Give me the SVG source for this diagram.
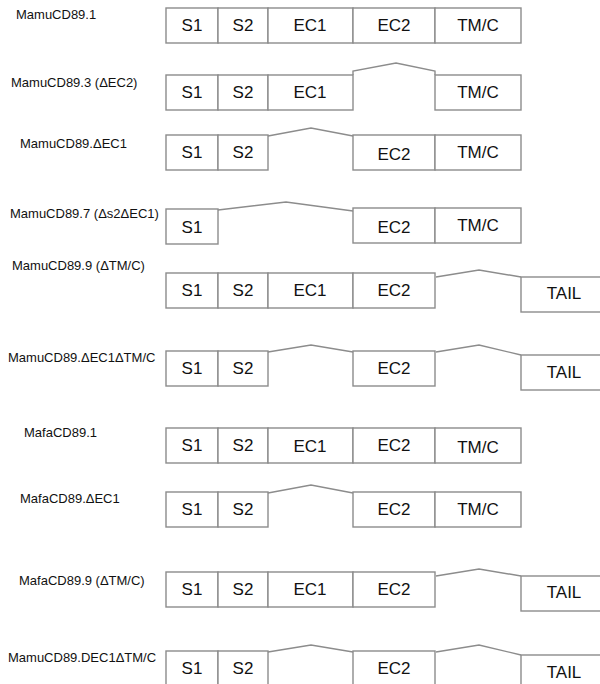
<svg xmlns="http://www.w3.org/2000/svg" width="600" height="684" viewBox="0 0 600 684">
<style>
.b{fill:#fff;stroke:#8c8c8c;stroke-width:1.4}
.c{fill:none;stroke:#8c8c8c;stroke-width:1.4}
.t{font-family:"Liberation Sans",Arial,sans-serif;font-size:17px;fill:#111;text-anchor:middle}
.l{font-family:"Liberation Sans",Arial,sans-serif;font-size:13px;fill:#111}
</style>
<rect width="600" height="684" fill="#fff"/>
<g id="labels">
<text class="l" x="16" y="19">MamuCD89.1</text>
<text class="l" x="11" y="87">MamuCD89.3 (ΔEC2)</text>
<text class="l" x="20" y="148">MamuCD89.ΔEC1</text>
<text class="l" x="10" y="218">MamuCD89.7 (Δs2ΔEC1)</text>
<text class="l" x="12" y="270">MamuCD89.9 (ΔTM/C)</text>
<text class="l" x="8" y="362">MamuCD89.ΔEC1ΔTM/C</text>
<text class="l" x="24" y="437">MafaCD89.1</text>
<text class="l" x="20" y="503">MafaCD89.ΔEC1</text>
<text class="l" x="19" y="585">MafaCD89.9 (ΔTM/C)</text>
<text class="l" x="8" y="662">MamuCD89.DEC1ΔTM/C</text>
</g>
<g id="row1" transform="translate(0,8)">
<rect class="b" x="166" y="0" width="52" height="35"/><text class="t" x="192" y="23">S1</text>
<rect class="b" x="218" y="0" width="50" height="35"/><text class="t" x="243" y="23">S2</text>
<rect class="b" x="268" y="0" width="85" height="35"/><text class="t" x="310" y="23">EC1</text>
<rect class="b" x="353" y="0" width="82" height="35"/><text class="t" x="394" y="23">EC2</text>
<rect class="b" x="435" y="0" width="86" height="35"/><text class="t" x="478" y="23">TM/C</text>
</g>
<g id="row2" transform="translate(0,75)">
<rect class="b" x="166" y="0" width="52" height="35"/><text class="t" x="192" y="23">S1</text>
<rect class="b" x="218" y="0" width="50" height="35"/><text class="t" x="243" y="23">S2</text>
<rect class="b" x="268" y="0" width="85" height="35"/><text class="t" x="310" y="23">EC1</text>
<rect class="b" x="435" y="0" width="86" height="35"/><text class="t" x="478" y="23">TM/C</text>
</g>
<g id="row3" transform="translate(0,135)">
<rect class="b" x="166" y="0" width="52" height="35"/><text class="t" x="192" y="23">S1</text>
<rect class="b" x="218" y="0" width="50" height="35"/><text class="t" x="243" y="23">S2</text>
<rect class="b" x="353" y="0" width="82" height="35"/><text class="t" x="394" y="25">EC2</text>
<rect class="b" x="435" y="0" width="86" height="35"/><text class="t" x="478" y="23">TM/C</text>
</g>
<g id="row4" transform="translate(0,208)">
<rect class="b" x="166" y="1" width="52" height="35"/><text class="t" x="192" y="25">S1</text>
<rect class="b" x="353" y="0" width="82" height="35"/><text class="t" x="394" y="25">EC2</text>
<rect class="b" x="435" y="0" width="86" height="35"/><text class="t" x="478" y="23">TM/C</text>
</g>
<g id="row5" transform="translate(0,273)">
<rect class="b" x="166" y="0" width="52" height="35"/><text class="t" x="192" y="23">S1</text>
<rect class="b" x="218" y="0" width="50" height="35"/><text class="t" x="243" y="23">S2</text>
<rect class="b" x="268" y="0" width="85" height="35"/><text class="t" x="310" y="23">EC1</text>
<rect class="b" x="353" y="0" width="82" height="35"/><text class="t" x="394" y="23">EC2</text>
<rect class="b" x="521" y="4" width="100" height="35"/><text class="t" x="564" y="26">TAIL</text>
</g>
<g id="row6" transform="translate(0,351)">
<rect class="b" x="166" y="0" width="52" height="35"/><text class="t" x="192" y="23">S1</text>
<rect class="b" x="218" y="0" width="50" height="35"/><text class="t" x="243" y="23">S2</text>
<rect class="b" x="353" y="0" width="82" height="35"/><text class="t" x="394" y="23">EC2</text>
<rect class="b" x="521" y="4" width="100" height="35"/><text class="t" x="564" y="27">TAIL</text>
</g>
<g id="row7" transform="translate(0,428)">
<rect class="b" x="166" y="0" width="52" height="35"/><text class="t" x="192" y="23">S1</text>
<rect class="b" x="218" y="0" width="50" height="35"/><text class="t" x="243" y="23">S2</text>
<rect class="b" x="268" y="0" width="85" height="35"/><text class="t" x="310" y="24">EC1</text>
<rect class="b" x="353" y="0" width="82" height="35"/><text class="t" x="394" y="23">EC2</text>
<rect class="b" x="435" y="0" width="86" height="35"/><text class="t" x="478" y="25">TM/C</text>
</g>
<g id="row8" transform="translate(0,492)">
<rect class="b" x="166" y="0" width="52" height="35"/><text class="t" x="192" y="23">S1</text>
<rect class="b" x="218" y="0" width="50" height="35"/><text class="t" x="243" y="23">S2</text>
<rect class="b" x="353" y="0" width="82" height="35"/><text class="t" x="394" y="23">EC2</text>
<rect class="b" x="435" y="0" width="86" height="35"/><text class="t" x="478" y="23">TM/C</text>
</g>
<g id="row9" transform="translate(0,572)">
<rect class="b" x="166" y="0" width="52" height="35"/><text class="t" x="192" y="23">S1</text>
<rect class="b" x="218" y="0" width="50" height="35"/><text class="t" x="243" y="23">S2</text>
<rect class="b" x="268" y="0" width="85" height="35"/><text class="t" x="310" y="23">EC1</text>
<rect class="b" x="353" y="0" width="82" height="35"/><text class="t" x="394" y="23">EC2</text>
<rect class="b" x="521" y="4" width="100" height="35"/><text class="t" x="564" y="26">TAIL</text>
</g>
<g id="row10" transform="translate(0,651)">
<rect class="b" x="166" y="0" width="52" height="35"/><text class="t" x="192" y="23">S1</text>
<rect class="b" x="218" y="0" width="50" height="35"/><text class="t" x="243" y="23">S2</text>
<rect class="b" x="353" y="0" width="82" height="35"/><text class="t" x="394" y="23">EC2</text>
<rect class="b" x="521" y="4" width="100" height="35"/><text class="t" x="564" y="27">TAIL</text>
</g>
<g id="connectors">
<path class="c" d="M353,75 L353,71 L396,63 L435,71 L435,75"/>
<path class="c" d="M268,136 L311,128 L353,136"/>
<path class="c" d="M218,210 L286,202 L353,211"/>
<path class="c" d="M436,277 L479,270 L521,277"/>
<path class="c" d="M268,352 L311,345 L353,352"/>
<path class="c" d="M436,352 L479,345 L521,355"/>
<path class="c" d="M268,493 L311,485 L353,493"/>
<path class="c" d="M436,576 L479,569 L521,576"/>
<path class="c" d="M268,652 L311,645 L353,652"/>
<path class="c" d="M436,652 L479,645 L521,655"/>
</g>
</svg>
